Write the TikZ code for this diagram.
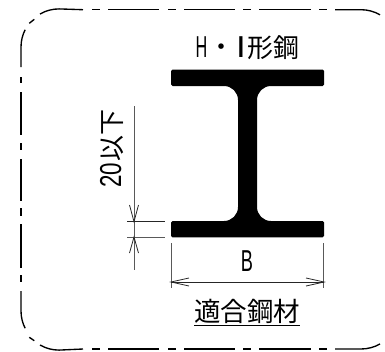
\documentclass[tikz,border=0pt]{standalone}
\usepackage{fontspec}
\setmainfont{Liberation Sans}
\newfontfamily\jpfont{Noto Sans CJK JP}
\newcommand{\lat}[2][.72]{\scalebox{#1}[1.08]{\fontsize{28}{28}\selectfont #2}}
\tikzset{
  frameline/.style={line width=1.35pt,black},
  dimline/.style={line width=.8pt,black!65},
  dimdark/.style={line width=.8pt,black!85},
  label/.style={inner sep=0pt,outer sep=0pt,anchor=base},
}
\begin{document}
\begin{tikzpicture}[x=1pt,y=-1pt]
\useasboundingbox (0,0) rectangle (385,351);
\clip (0,0) rectangle (385,351);
% frame: corners
\draw[frameline] (21,67) -- (21,47) arc[start angle=180,end angle=207,radius=38];
\draw[frameline] (29.3,23.3) -- (34.3,19.3);
\draw[frameline] (40,14) arc[start angle=240,end angle=270,radius=38] -- (83,9.7);
\draw[frameline] (21,291) -- (21,311) arc[start angle=180,end angle=153,radius=38];
\draw[frameline] (29.3,337.3) -- (34.3,340.7);
\draw[frameline] (40,345) arc[start angle=120,end angle=90,radius=38] -- (83,349);
\draw[frameline] (335,9.7) -- (361,9.7) arc[start angle=270,end angle=300,radius=38];
\draw[frameline] (335,349) -- (361,349) arc[start angle=90,end angle=60,radius=38];
% frame: top and bottom dashes
\foreach \yy in {9.7,349}{
  \foreach \a/\b in {92/100,108/159,168/176,184/235,243/251,259/311,319/327}{
    \draw[frameline] (\a,\yy) -- (\b,\yy);
  }
}
% frame: left dashes
\foreach \a/\b in {77/83,92/135,143/150,159/201,208/216,224/268,275/282}{
  \draw[frameline] (21,\a) -- (21,\b);
}
% I-beam
\fill[black] (172.5,69.5) -- (322.5,69.5) arc[start angle=-90,end angle=0,radius=1.5]
  -- (324,84.5) arc[start angle=0,end angle=90,radius=1.5]
  -- (271,86) arc[start angle=-90,end angle=-180,radius=14]
  -- (257,207) arc[start angle=180,end angle=90,radius=14]
  -- (322.5,221) arc[start angle=-90,end angle=0,radius=1.5]
  -- (324,235.8) arc[start angle=0,end angle=90,radius=1.5]
  -- (172.5,237.3) arc[start angle=90,end angle=180,radius=1.5]
  -- (171,222.5) arc[start angle=180,end angle=270,radius=1.5]
  -- (224,221) arc[start angle=90,end angle=0,radius=14]
  -- (238,100) arc[start angle=0,end angle=-90,radius=14]
  -- (172.5,86) arc[start angle=90,end angle=180,radius=1.5]
  -- (171,71) arc[start angle=180,end angle=270,radius=1.5] -- cycle;
% vertical dimension
\draw[dimline] (134,106) -- (134,270);
\draw[dimdark] (127,221.7) -- (165,221.7);
\draw[dimline] (127,237) -- (165,237);
\draw[dimdark] (129.5,205) -- (134,221.7) -- (138.5,205);
\draw[dimdark] (129.5,253) -- (134,237) -- (138.5,253);
% horizontal dimension
\draw[dimline] (171.5,243) -- (171.5,288);
\draw[dimline] (323,243) -- (323,288);
\draw[dimdark] (171,282) -- (324,282);
\draw[dimdark] (189,278) -- (171,282) -- (189,286);
\draw[dimdark] (306,278) -- (324,282) -- (306,286);
% texts
\node[label] (title) at (247.6,57) {\fontsize{26}{26}\selectfont
  \makebox[12pt][c]{\lat[.58]{H}}\makebox[27pt][c]{\raisebox{1pt}{\jpfont ・}}\makebox[13pt][c]{\lat[.8]{\bfseries I}}{\jpfont 形鋼}};
\node[label,rotate=90] (height) at (121,148.5) {\fontsize{26}{26}\selectfont\lat[.8]{20}\hspace{1pt}{\jpfont 以下}};
\node[label] (width) at (247,271) {\lat[.65]{B}};
\node[label] (material) at (247,321.5) {\fontsize{26.5}{26.5}\selectfont\jpfont 適合鋼材};
\draw[line width=1.2pt] (194,325.3) -- (299.5,325.3);
\end{tikzpicture}
\end{document}
